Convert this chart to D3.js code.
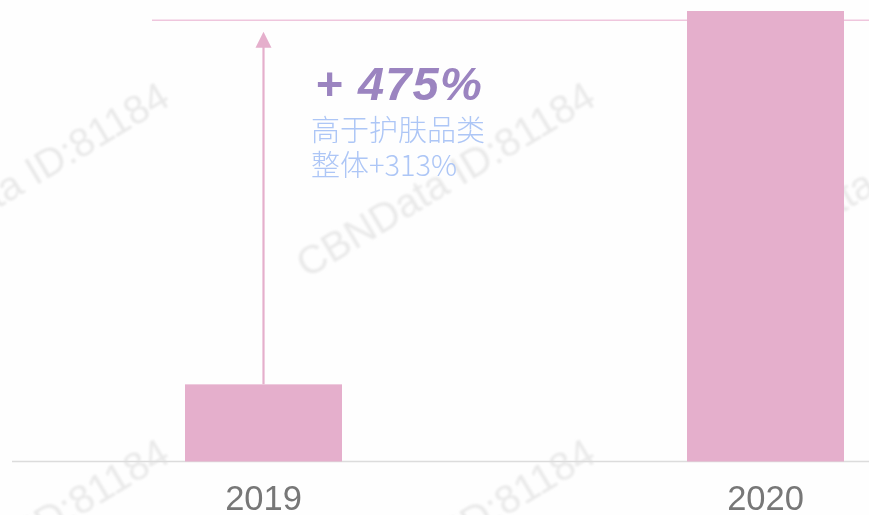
<!DOCTYPE html>
<html>
<head>
<meta charset="utf-8">
<script src="https://cdn.jsdelivr.net/npm/d3@7"></script>
<style>
  html, body { margin: 0; padding: 0; background: #fefefe; }
  svg { display: block; }
</style>
</head>
<body>
<svg id="svg" width="869" height="515"></svg>
<script>
// data (2019 = 100)
var years = ["2019", "2020"];
var values = [100, 584];
var refValue = 572;            // +475% level line
var growthLabel = "+ 475%";
var noteLines = ["高于护肤品类", "整体+313%"];
var watermark = "CBNData ID:81184";

var svg = d3.select("#svg");
var W = +svg.attr("width"), H = +svg.attr("height");

var barColor = "#e5afcc";
var baseY = 461.5, topY = 11;

let x = d3.scalePoint()
  .domain(years)
  .range([263.5, 765.5]);
let barW = 157;

let y = d3.scaleLinear()
  .domain([0, d3.max(values)])
  .range([baseY, topY]);

// soft blur for the watermark
svg.append("defs").append("filter")
  .attr("id", "wmBlur")
  .append("feGaussianBlur")
  .attr("stdDeviation", 0.9);

// watermark tiles
var wm = svg.append("g").attr("class", "watermark").attr("filter", "url(#wmBlur)");
for (let r = 0; r < 2; r++) {
  for (let c = 0; c < 3; c++) {
    wm.append("text")
      .attr("transform", "translate(" + (172 + c * 426) + "," + (104 + r * 357) + ")rotate(-31)")
      .attr("text-anchor", "end")
      .attr("font-family", "Liberation Sans, Arial, sans-serif")
      .attr("font-size", 40)
      .attr("fill", "#e9e9e9")
      .text(watermark);
  }
}

// reference line at growth level
svg.append("line")
  .attr("x1", 152).attr("x2", W)
  .attr("y1", y(refValue)).attr("y2", y(refValue))
  .attr("stroke", "#efc6dd")
  .attr("stroke-width", 1.5);

// baseline
svg.append("line")
  .attr("x1", 12).attr("x2", W)
  .attr("y1", baseY).attr("y2", baseY)
  .attr("stroke", "#dcdcdc")
  .attr("stroke-width", 1.5);

svg.selectAll(".bar")
  .data(values)
  .enter().append("rect")
  .attr("class", "bar")
  .attr("x", (d, i) => x(years[i]) - barW / 2)
  .attr("y", d => y(d))
  .attr("width", barW)
  .attr("height", d => baseY - y(d))
  .attr("fill", barColor);

// arrow from 2019 bar up to the 2020 level
var ax = x(years[0]);
var tipY = y(refValue) + 11.5;
svg.append("line")
  .attr("x1", ax).attr("x2", ax)
  .attr("y1", y(values[0])).attr("y2", tipY + 12)
  .attr("stroke", "#e5afcc")
  .attr("stroke-width", 2.2);
svg.append("path")
  .attr("d", "M" + ax + "," + tipY + "L" + (ax + 8) + "," + (tipY + 16) + "L" + (ax - 8) + "," + (tipY + 16) + "Z")
  .attr("fill", "#e5afcc");

// growth text
svg.append("text")
  .attr("x", 315).attr("y", 100)
  .attr("font-family", "Liberation Sans, Arial, sans-serif")
  .attr("font-weight", "bold")
  .attr("font-style", "italic")
  .attr("font-size", 47)
  .attr("letter-spacing", 1.2)
  .attr("fill", "#9b84c0")
  .text(growthLabel);

svg.selectAll(".note")
  .data(noteLines)
  .enter().append("text")
  .attr("class", "note")
  .attr("x", 311)
  .attr("y", (d, i) => 141 + i * 35)
  .attr("font-family", "Noto Sans CJK SC, sans-serif")
  .attr("font-weight", 300)
  .attr("font-size", 29)
  .attr("fill", "#adc6f6")
  .text(d => d);

// x axis labels
svg.selectAll(".year")
  .data(years)
  .enter().append("text")
  .attr("class", "year")
  .attr("x", d => x(d))
  .attr("y", 510)
  .attr("text-anchor", "middle")
  .attr("font-family", "Liberation Sans, Arial, sans-serif")
  .attr("font-size", 34.5)
  .attr("fill", "#777777")
  .text(d => d);
</script>
</body>
</html>
